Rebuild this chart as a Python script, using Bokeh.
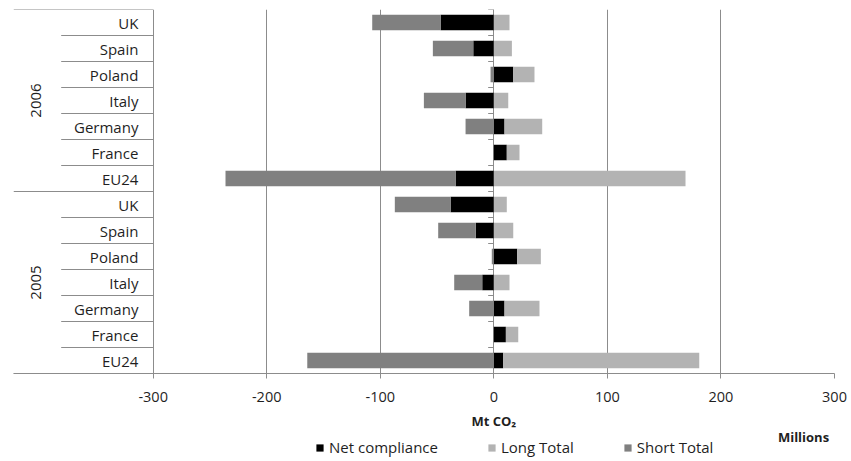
from bokeh.plotting import figure
from bokeh.layouts import column
from bokeh.models import (Range1d, FixedTicker, Legend, LegendItem, Label, ColumnDataSource)
from bokeh.core.properties import value
from bokeh.embed import file_html
from bokeh.resources import INLINE

# ---- data (rows listed bottom-to-top within each year, as in the chart) ----
years = ["2005", "2006"]
countries = ["EU24", "France", "Germany", "Italy", "Poland", "Spain", "UK"]

net_2005 = [8.3, 10.6, 9.4, -10.2, 20.6, -15.9, -38.1]
long_2005 = [172.6, 10.9, 30.8, 13.8, 20.8, 17.1, 11.4]
short_2005 = [-164.3, 0.0, -21.7, -24.7, -1.8, -33.1, -49.1]

net_2006 = [-33.7, 11.4, 9.4, -24.9, 17.1, -18.1, -46.9]
long_2006 = [168.8, 11.2, 33.2, 12.7, 18.7, 15.9, 13.8]
short_2006 = [-202.6, 0.0, -24.9, -36.7, -2.9, -35.6, -60.2]

series_names = ["Net compliance", "Long Total", "Short Total"]
series_colors = ["#000000", "#b3b3b3", "#808080"]
x_ticks = [-300, -200, -100, 0, 100, 200, 300]

net = net_2005 + net_2006
long_ = long_2005 + long_2006
short = short_2005 + short_2006
series = [net, long_, short]

n_c = len(countries)
n_rows = n_c * len(years)
ys = [i + 0.5 for i in range(n_rows)]

# Excel-style stacking: positives on positives, negatives on negatives
pos_base = [0.0] * n_rows
neg_base = [0.0] * n_rows
sources = []
for vals in series:
    lefts, rights = [], []
    for i, v in enumerate(vals):
        if v >= 0:
            lefts.append(pos_base[i]); rights.append(pos_base[i] + v); pos_base[i] += v
        else:
            lefts.append(neg_base[i] + v); rights.append(neg_base[i]); neg_base[i] += v
    sources.append(ColumnDataSource(dict(y=ys, left=lefts, right=rights)))

FONT = "Open Sans"
TXT = "#1f1f1f"
GRID = "#8c8c8c"
X_LEFT = -423

p = figure(frame_width=821, frame_height=364, output_backend="svg", toolbar_location=None,
           x_range=Range1d(X_LEFT, 300), y_range=Range1d(0, n_rows),
           y_axis_location=None, min_border_left=13, min_border_top=9,
           min_border_right=17, min_border_bottom=38)
p.outline_line_color = None
p.ygrid.visible = False
p.xgrid.ticker = FixedTicker(ticks=x_ticks)
p.xgrid.grid_line_color = GRID
p.xgrid.grid_line_width = 1

ax = p.xaxis[0]
ax.ticker = FixedTicker(ticks=x_ticks)
ax.major_label_overrides = {t: str(t) for t in x_ticks}
ax.axis_line_color = GRID
ax.major_tick_line_color = GRID
ax.major_tick_out = 5
ax.major_tick_in = 0
ax.minor_tick_line_color = None
ax.major_label_text_font = FONT
ax.major_label_text_font_size = "14.5px"
ax.major_label_text_color = TXT
ax.major_label_standoff = 13

for src, col in zip(sources, series_colors):
    p.hbar(y="y", left="left", right="right", height=0.59, source=src,
           fill_color=col, line_color=None)

# small ticks on the zero category axis
tick_y = list(range(1, n_rows + 1))
p.segment(x0=[-5] * len(tick_y), x1=[0] * len(tick_y), y0=tick_y, y1=tick_y,
          line_color=GRID, line_width=1)

# category "table" on the left
row_sep = [i for i in range(1, n_rows) if i % n_c != 0]
p.segment(x0=[-381] * len(row_sep), x1=[-300] * len(row_sep), y0=row_sep, y1=row_sep,
          line_color=GRID, line_width=1)
grp_sep = [i * n_c for i in range(len(years) + 1)]
p.segment(x0=[X_LEFT] * len(grp_sep), x1=[-300] * len(grp_sep), y0=grp_sep, y1=grp_sep,
          line_color=GRID, line_width=1)

labels_txt = countries * len(years)
p.text(x=[-313] * n_rows, y=ys, text=labels_txt, text_align="right", text_baseline="middle",
       text_font=value(FONT), text_font_size="15px", text_color=TXT)
yc = [g * n_c + n_c / 2 for g in range(len(years))]
p.text(x=[-403] * len(years), y=yc, text=years, angle=1.5708, text_align="center",
       text_baseline="middle", text_font=value(FONT), text_font_size="15px", text_color=TXT)

# ---- lower strip: axis title, units note and legend (shares the x scale) ----
p2 = figure(frame_width=821, frame_height=48, output_backend="svg", toolbar_location=None,
            x_range=p.x_range, y_range=Range1d(-1, 0), x_axis_location=None,
            y_axis_location=None, min_border_left=13, min_border_top=0,
            min_border_right=17, min_border_bottom=0)
p2.outline_line_color = None
p2.xgrid.visible = False
p2.ygrid.visible = False

p2.add_layout(Label(x=0, y=39, x_units="data", y_units="screen", text="Mt CO\u2082",
                    text_align="center", text_baseline="middle", text_font=FONT,
                    text_font_size="13px", text_font_style="bold", text_color=TXT))
p2.add_layout(Label(x=790, y=23, x_units="screen", y_units="screen", text="Millions",
                    text_align="center", text_baseline="middle", text_font=FONT,
                    text_font_size="13px", text_font_style="bold", text_color=TXT))

# legend keys: the same series, hidden on this strip, only used for the key swatches
key_renderers = [p2.hbar(y="y", left="left", right="right", height=0.59, source=src,
                         fill_color=col, line_color=None, visible=False)
                 for src, col in zip(sources, series_colors)]
lg = Legend(items=[LegendItem(label=n, renderers=[r]) for n, r in zip(series_names, key_renderers)],
            location=(302, 2), orientation="horizontal", padding=0, margin=0, spacing=49,
            border_line_color=None, background_fill_alpha=0, glyph_width=9, glyph_height=9,
            label_standoff=5, label_text_font=FONT, label_text_font_size="15px",
            label_text_color=TXT, label_height=12, inactive_fill_alpha=0)
p2.add_layout(lg, "center")

layout = column(p, p2, spacing=0)
open("out.html", "w").write(file_html(layout, INLINE))
